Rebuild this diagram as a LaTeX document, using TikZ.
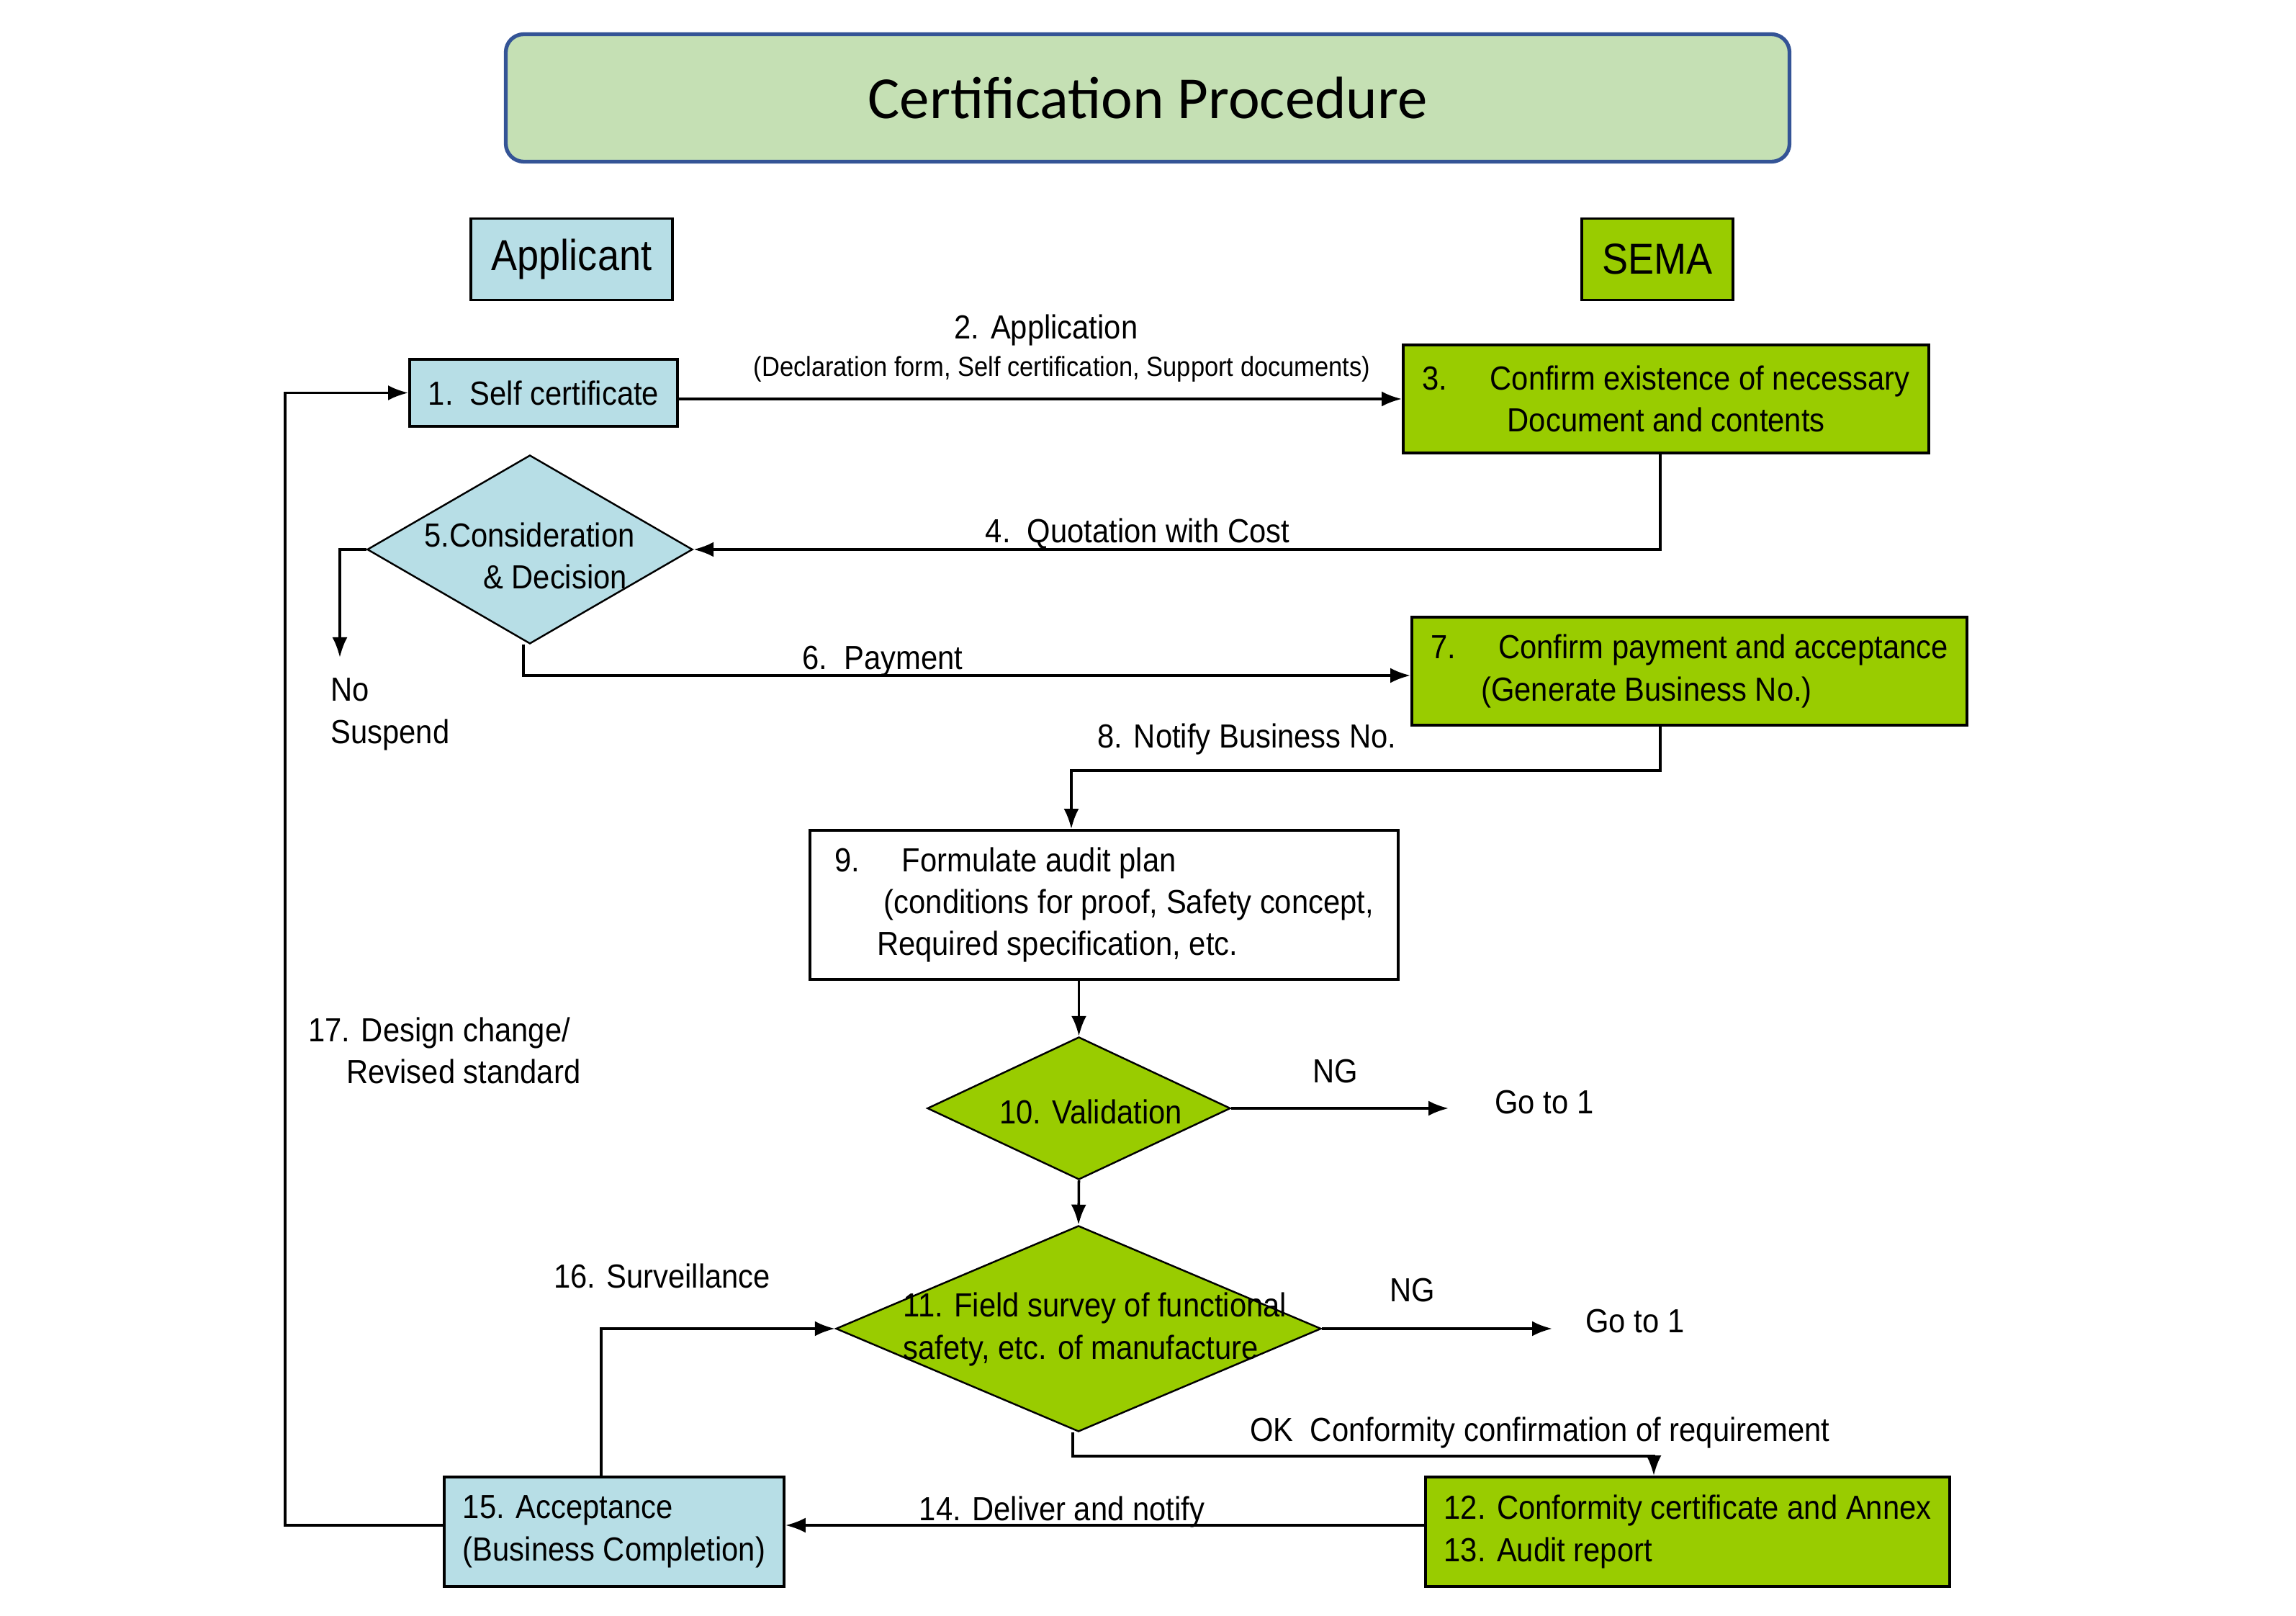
\documentclass[tikz,border=0pt]{standalone}
\usepackage{fontspec}
\setmainfont{Liberation Sans}[FakeStretch=0.9]
\newfontfamily\titlefont{Carlito}
\usepackage{tikz}
\usetikzlibrary{shapes.geometric,arrows.meta}
\definecolor{appblue}{RGB}{183,222,230}
\definecolor{semagreen}{RGB}{153,204,0}
\definecolor{titlegreen}{RGB}{197,224,180}
\definecolor{titleblue}{RGB}{52,84,150}

\begin{document}
\begin{tikzpicture}[
    font=\fontsize{13.2}{16.6}\selectfont,
    box/.style={draw,line width=1.1pt,inner xsep=0.2cm,inner ysep=0pt,align=left},
    appbox/.style={box,fill=appblue},
    semabox/.style={box,fill=semagreen},
    decision/.style={diamond,draw,line width=0.7pt,inner sep=0pt},
    flow/.style={line width=1pt,-{Latex[length=2.8mm,width=2.1mm]}}
  ]
    \useasboundingbox (0,0) rectangle (31.89,-22.44);

    \node[draw=titleblue,line width=1.5pt,rounded corners=0.25cm,fill=titlegreen,
          minimum width=17.83cm,minimum height=1.77cm,
          font={\titlefont\fontsize{23.6}{28}\selectfont}] (title) at (15.94,-1.36) {Certification Procedure};

    \node[appbox,minimum width=2.8cm,minimum height=1.13cm,font=\fontsize{17.1}{20}\selectfont] (applicant) at (7.94,-3.60) {Applicant};
    \node[semabox,minimum width=2.1cm,minimum height=1.13cm,font=\fontsize{17.1}{20}\selectfont] (sema) at (23.02,-3.60) {SEMA};

    \node[appbox,minimum width=3.72cm,minimum height=0.93cm] (self) at (7.55,-5.455) {1.\ \ Self certificate};
    \node[semabox,minimum width=7.3cm,minimum height=1.5cm] (confirm) at (23.14,-5.54)
        {\makebox[0.94cm][l]{3.}Confirm existence of necessary\\\hspace*{1.18cm}Document and contents};
    \node[decision,fill=appblue,minimum width=4.52cm,minimum height=2.62cm] (consider) at (7.36,-7.63) {};
    \node[semabox,minimum width=7.71cm,minimum height=1.5cm] (payment) at (23.465,-9.32)
        {\makebox[0.94cm][l]{7.}Confirm payment and acceptance\\\hspace*{0.70cm}(Generate Business No.)};
    \node[box,fill=white,minimum width=8.17cm,minimum height=2.07cm] (plan) at (15.335,-12.565)
        {\makebox[0.94cm][l]{9.}Formulate audit plan\\\hspace*{0.69cm}(conditions for proof, Safety concept,\\\hspace*{0.59cm}Required specification, etc.};
    \node[decision,fill=semagreen,minimum width=4.21cm,minimum height=1.98cm] (valid) at (14.985,-15.39) {};
    \node[decision,fill=semagreen,minimum width=6.74cm,minimum height=2.86cm] (survey) at (14.98,-18.45) {};
    \node[appbox,minimum width=4.72cm,minimum height=1.52cm] (accept) at (8.53,-21.27)
        {15. Acceptance\\(Business Completion)};
    \node[semabox,minimum width=7.28cm,minimum height=1.52cm] (cert) at (23.44,-21.27)
        {12. Conformity certificate and Annex\\13. Audit report};

    \node[align=left] (considertext) at (7.355,-7.72) {5.Consideration\\\hspace*{0.82cm}\& Decision};
    \node (validtext) at (15.15,-15.44) {10. Validation};
    \node[align=left] (surveytext) at (15.21,-18.46) {11. Field survey of functional\\safety, etc. of manufacture};

    \coordinate (suspend) at (4.72,-9.13);
    \coordinate (goto1a) at (20.12,-15.39);
    \coordinate (goto1b) at (21.56,-18.45);
    \coordinate (okbend) at (22.97,-20.22);

    \draw[flow] (self.east |- confirm.west) -- (confirm.west);
    \draw[flow] ([xshift=-0.08cm]confirm.south) |- (consider.east);
    \draw[flow] (consider.west) -| (suspend);
    \draw[flow] ([xshift=-0.09cm]consider.south) |- ([yshift=-0.06cm]payment.west);
    \draw[flow] ([xshift=-0.405cm]payment.south) -- ++(0,-0.61) -| ([xshift=-0.455cm]plan.north);
    \draw[flow] (plan.south -| valid.north) -- (valid.north);
    \draw[flow] (valid.east) -- (goto1a);
    \draw[flow] (valid.south) -- (survey.north);
    \draw[flow] (survey.east) -- (goto1b);
    \draw[flow] ([xshift=-0.08cm]survey.south) |- (okbend) -- (okbend |- cert.north);
    \draw[flow] ([yshift=0.09cm]cert.west) -- ([yshift=0.09cm]accept.east);
    \draw[flow] ([xshift=-0.18cm]accept.north) |- (survey.west);
    \draw[flow] ([yshift=0.09cm]accept.west) -- ++(-2.19,0) |- (self.west);

    \node (applab) at (14.53,-4.59) {2. Application};
    \node[font=\fontsize{10.9}{13}\selectfont] (doclab) at (14.75,-5.13) {(Declaration form, Self certification, Support documents)};
    \node (quotelab) at (15.80,-7.41) {4.\ \ Quotation with Cost};
    \node[align=left,anchor=west] (suspendlab) at (4.47,-9.92) {No\\Suspend};
    \node (paylab) at (12.26,-9.18) {6.\ \ Payment};
    \node (notifylab) at (17.32,-10.27) {8. Notify Business No.};
    \node (nga) at (18.55,-14.88) {NG};
    \node[anchor=west] (gotoa) at (20.64,-15.31) {Go to 1};
    \node (ngb) at (19.62,-17.92) {NG};
    \node[anchor=west] (gotob) at (21.90,-18.35) {Go to 1};
    \node[anchor=west] (oklab) at (17.24,-19.90) {OK\ \ Conformity confirmation of requirement};
    \node (deliverlab) at (14.75,-20.99) {14. Deliver and notify};
    \node (surveylab) at (9.195,-17.72) {16. Surveillance};
    \node[align=left,anchor=west] (designlab) at (4.16,-14.59) {17. Design change/\\\hspace*{0.53cm}Revised standard};
\end{tikzpicture}
\end{document}
